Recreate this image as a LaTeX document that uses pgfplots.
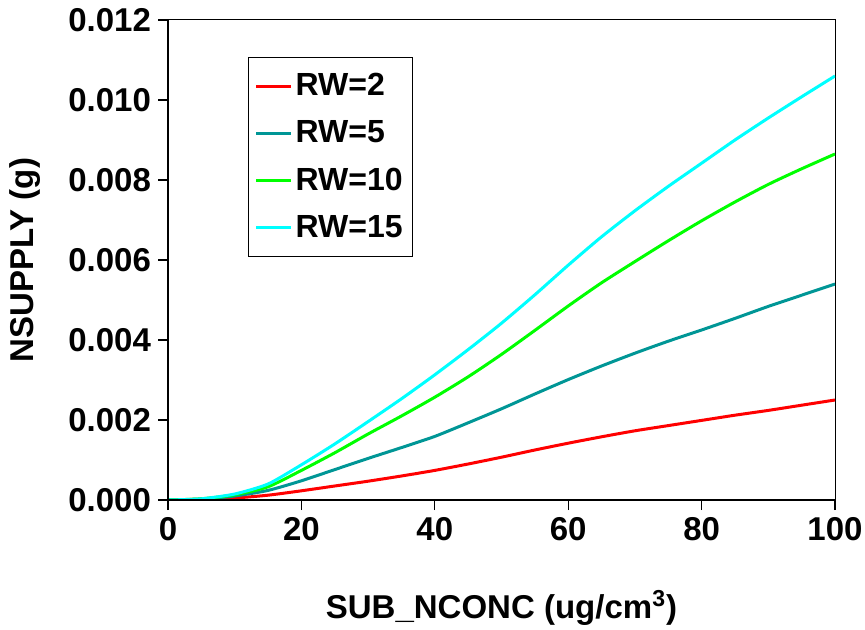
\documentclass[border=0pt]{standalone}
\usepackage{fontspec}
\setmainfont{Liberation Sans}
\usepackage{pgfplots}
\pgfplotsset{compat=1.18}
\definecolor{rwred}{RGB}{255,0,0}
\definecolor{rwteal}{RGB}{0,150,150}
\definecolor{rwgreen}{RGB}{0,255,0}
\definecolor{rwcyan}{RGB}{0,255,255}
\newcommand{\bigbf}{\fontsize{16.5}{19}\selectfont\bfseries}
\newcommand{\legbf}{\fontsize{16}{18}\selectfont\bfseries}
\begin{document}
\begin{tikzpicture}
\useasboundingbox (-84pt,-65pt) rectangle (348.5pt,250pt);
\begin{axis}[
  scale only axis,
  width=333.5pt, height=240pt,
  xmin=0, xmax=100, ymin=0, ymax=0.012,
  xtick={0,20,40,60,80,100},
  ytick={0,0.002,0.004,0.006,0.008,0.010,0.012},
  scaled y ticks=false,
  tick pos=left,
  tick align=outside,
  major tick length=5pt,
  tick style={black, line width=0.6pt},
  axis line style={line width=0.5pt},
  /pgf/number format/assume math mode=true,
  yticklabel style={/pgf/number format/.cd, fixed, fixed zerofill, precision=3},
  ticklabel style={font=\bigbf},
  xlabel={SUB\_NCONC (ug/cm\textsuperscript{3})},
  ylabel={NSUPPLY (g)},
  label style={font=\bigbf},
  xlabel style={at={(axis description cs:0.5,-0.225)}, anchor=center},
  ylabel style={at={(axis description cs:-0.2144,0.5)}, anchor=center},
  legend style={at={(axis description cs:0.12,0.923)}, anchor=north west,
    draw=black, line width=0.5pt, font=\legbf, row sep=7pt,
    inner xsep=3pt, inner ysep=6pt},
  legend cell align=left,
  legend image post style={line width=1.5pt},
  every axis plot/.append style={smooth, tension=0.4},
  after end axis/.code={\draw[line width=1pt] (rel axis cs:0,1) -- (rel axis cs:0,0) -- (rel axis cs:1,0);},
]
\addplot[rwred, line width=1.5pt] coordinates {
(0,0) (5,0.00002) (10,0.00005) (15,0.00012) (20,0.00023) (25,0.00035) (30,0.00047) (35,0.0006) (40,0.00074) (45,0.0009) (50,0.00107) (55,0.00125) (60,0.00142) (65,0.00158) (70,0.00173) (75,0.00186) (80,0.00199) (85,0.00212) (90,0.00224) (95,0.00237) (100,0.0025)};
\addlegendentry{RW=2}
\addplot[rwteal, line width=1.5pt] coordinates {
(0,0) (5,0.00002) (10,0.0001) (15,0.00024) (20,0.00048) (25,0.00076) (30,0.00104) (35,0.00131) (40,0.00159) (45,0.00193) (50,0.00228) (55,0.00265) (60,0.00301) (65,0.00335) (70,0.00367) (75,0.00397) (80,0.00425) (85,0.00454) (90,0.00484) (95,0.00512) (100,0.0054)};
\addlegendentry{RW=5}
\addplot[rwgreen, line width=1.5pt] coordinates {
(0,0) (5,0.00003) (10,0.00013) (15,0.00033) (20,0.00074) (25,0.00118) (30,0.00165) (35,0.0021) (40,0.00257) (45,0.00308) (50,0.00364) (55,0.00424) (60,0.00485) (65,0.00543) (70,0.00596) (75,0.00648) (80,0.00698) (85,0.00745) (90,0.00789) (95,0.00828) (100,0.00865)};
\addlegendentry{RW=10}
\addplot[rwcyan, line width=1.5pt] coordinates {
(0,0) (5,0.00003) (10,0.00015) (15,0.0004) (20,0.00088) (25,0.0014) (30,0.00196) (35,0.00253) (40,0.00313) (45,0.00376) (50,0.00442) (55,0.00513) (60,0.00587) (65,0.00658) (70,0.00723) (75,0.00784) (80,0.00842) (85,0.009) (90,0.00955) (95,0.01008) (100,0.0106)};
\addlegendentry{RW=15}
\end{axis}
\end{tikzpicture}
\end{document}
